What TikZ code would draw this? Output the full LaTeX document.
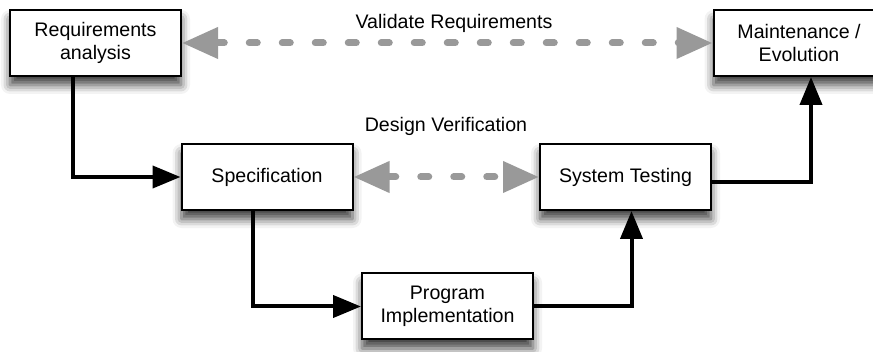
\documentclass[tikz,border=0pt]{standalone}
\usepackage{fontspec}
\setmainfont{Liberation Sans}
\usetikzlibrary{arrows.meta,shadows.blur}
\definecolor{linkgray}{RGB}{153,153,153}

\begin{document}
\begin{tikzpicture}[x=0.5pt,y=-0.5pt,
        phase/.style={draw,line width=1pt,fill=white,minimum width=85.5pt,minimum height=33pt,align=center,font=\fontsize{9.8}{11.5}\selectfont,blur shadow={shadow xshift=0pt,shadow yshift=-4.5pt,shadow blur radius=4.5pt,shadow opacity=75}},
        flow/.style={line width=2pt,-{Triangle[length=14pt,width=11pt]}},
        check/.style={linkgray,line width=3.5pt,line cap=round,dash pattern=on 4pt off 12.5pt,{Triangle[length=18pt,width=15pt]}-{Triangle[length=18pt,width=15pt]}},
        note/.style={font=\fontsize{9.8}{11.5}\selectfont}]
        \useasboundingbox (0,0) rectangle (873,352);
        \node[phase] (req) at (95.5,43) {Requirements\\analysis};
        \node[phase] (maint) at (799,43) {Maintenance /\\Evolution};
        \node[phase] (spec) at (267,177) {Specification};
        \node[phase] (sys) at (625.5,177) {System Testing};
        \node[phase] (prog) at (447.5,306.5) {Program\\Implementation};
        \node[note] (valtext) at (454,23) {Validate Requirements};
        \node[note] (vertext) at (446,126) {Design Verification};
        \draw[check] (req.east) -- (maint.west);
        \draw[check] (spec.east) -- (sys.west);
        \draw[flow] ([xshift=-11.5pt]req.south) |- (spec.west);
        \draw[flow] ([xshift=-7pt]spec.south) |- (prog.west);
        \draw[flow] (prog.east) -| ([xshift=3pt]sys.south);
        \draw[flow] ([yshift=-2.5pt]sys.east) -| ([xshift=6pt]maint.south);
    \end{tikzpicture}
\end{document}
